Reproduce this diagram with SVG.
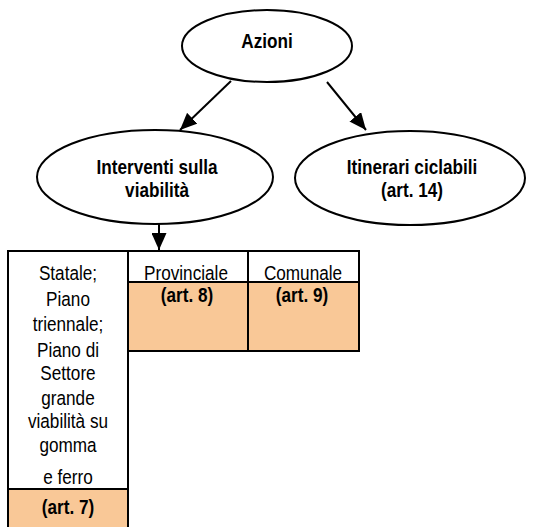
<svg xmlns="http://www.w3.org/2000/svg" width="536" height="527" viewBox="0 0 536 527">
  <style>
    .node ellipse { fill: #ffffff; stroke: #000000; stroke-width: 2; }
    /* narrow sans look: regular sans squeezed horizontally around its own centre */
    .lbl { font-family: "Liberation Sans", Arial, sans-serif; font-size: 19.5px; fill: #000000; text-anchor: middle;
           transform-box: fill-box; transform-origin: center; transform: scaleX(0.88); }
    .b { font-weight: bold; }
    .cell { fill: #ffffff; stroke: none; }
    .hl { fill: #F9C897; stroke: none; }
    .grid { stroke: #000000; stroke-width: 2; fill: none; }
    .conn line { stroke: #000000; stroke-width: 2; }
  </style>
  <defs>
    <marker id="arrow" markerUnits="userSpaceOnUse" markerWidth="17" markerHeight="15" refX="17" refY="7.5" orient="auto">
      <path d="M0,0 L17,7.5 L0,15 Z" fill="#000000"/>
    </marker>
  </defs>

  <rect width="536" height="527" fill="#ffffff"/>

  <!-- connectors -->
  <g id="connectors" class="conn">
    <line x1="231" y1="81" x2="180" y2="130" marker-end="url(#arrow)"/>
    <line x1="327" y1="82" x2="366" y2="130" marker-end="url(#arrow)"/>
    <line x1="159" y1="224" x2="159" y2="250" marker-end="url(#arrow)"/>
  </g>

  <g id="azioni" class="node">
    <ellipse cx="267" cy="46" rx="85" ry="36"/>
    <text class="lbl b" x="267" y="48">Azioni</text>
  </g>

  <g id="interventi" class="node">
    <ellipse cx="155" cy="177" rx="118" ry="47"/>
    <text class="lbl b" x="157" y="174">Interventi sulla</text>
    <text class="lbl b" x="157" y="197">viabilità</text>
  </g>

  <g id="itinerari" class="node">
    <ellipse cx="410" cy="178" rx="115" ry="47"/>
    <text class="lbl b" x="412" y="174">Itinerari ciclabili</text>
    <text class="lbl b" x="412" y="197">(art. 14)</text>
  </g>

  <!-- classification table -->
  <g id="tabella">
    <rect class="cell" x="8" y="251" width="351" height="31"/>
    <rect class="cell" x="8" y="282" width="120" height="207"/>
    <rect class="hl" x="128" y="282" width="231" height="69"/>
    <rect class="hl" x="8" y="489" width="120" height="40"/>
    <path class="grid" d="M8,529 V251 H359 V351 H128 M128,251 V529 M248,251 V351 M128,282 H359 M8,489 H128"/>
  </g>

  <g id="statale">
    <text class="lbl" x="68" y="280">Statale;</text>
    <text class="lbl" x="68" y="306">Piano</text>
    <text class="lbl" x="68" y="331">triennale;</text>
    <text class="lbl" x="68" y="357">Piano di</text>
    <text class="lbl" x="68" y="380">Settore</text>
    <text class="lbl" x="68" y="405">grande</text>
    <text class="lbl" x="68" y="428">viabilità su</text>
    <text class="lbl" x="68" y="452">gomma</text>
    <text class="lbl" x="68" y="484">e ferro</text>
    <text class="lbl b" x="68" y="514">(art. 7)</text>
  </g>

  <g id="provinciale">
    <text class="lbl" x="186" y="280">Provinciale</text>
    <text class="lbl b" x="187" y="302">(art. 8)</text>
  </g>

  <g id="comunale">
    <text class="lbl" x="303" y="280">Comunale</text>
    <text class="lbl b" x="302" y="302">(art. 9)</text>
  </g>
</svg>
